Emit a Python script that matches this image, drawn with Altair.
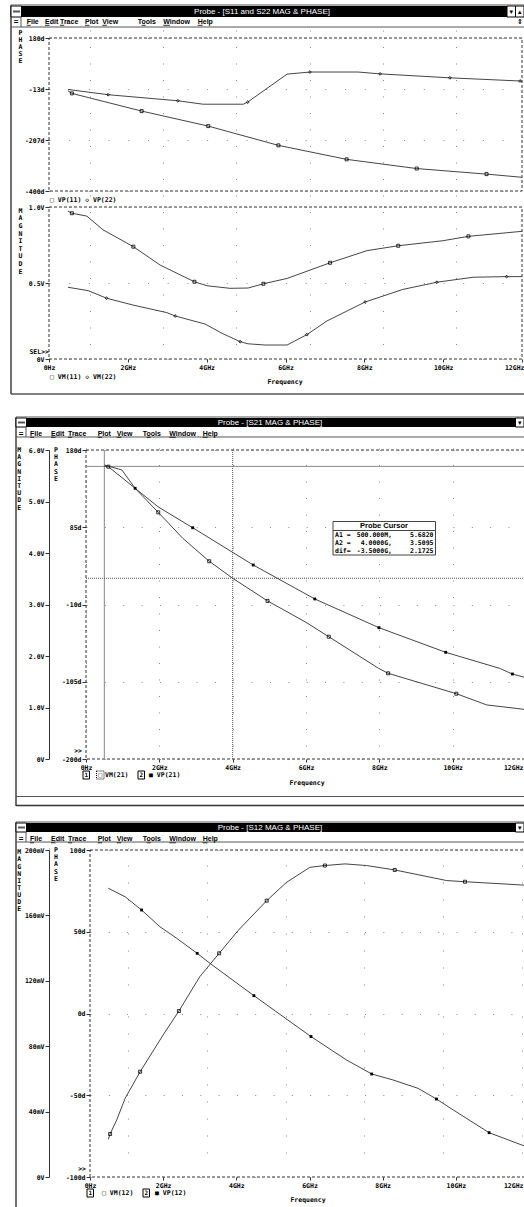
import altair as alt
import pandas as pd

W, H = 524, 1207
INK = "#000000"
TRACE = "#303030"
AX = "#333333"
DOTS = "#8a8a8a"
MONO = "DejaVu Sans Mono"
SANS = "Liberation Sans"

# ---------------- data ----------------
F_TICKS = [0, 2, 4, 6, 8, 10, 12]          # GHz

# S11 / S22 : phase (deg)
VP11_F = [0.48, 0.58, 2.35, 4.04, 5.82, 7.55, 9.33, 11.10, 12.0]
VP11_V = [-20, -30, -97, -154, -227, -280, -315, -336, -348]
VP11_M = [0, 1, 1, 1, 1, 1, 1, 1, 0]

VP22_F = [0.48, 1.50, 3.27, 3.91, 4.93, 5.04, 6.04, 6.62, 7.84, 8.40, 10.17, 11.95, 12.0]
VP22_V = [-15, -35, -58, -71, -71, -63, 43, 51, 51, 44, 29, 17, 17]
VP22_M = [0, 1, 1, 0, 0, 1, 0, 1, 0, 1, 1, 1, 0]

# S11 / S22 : magnitude (V)
VM11_F = [0.48, 0.58, 0.96, 1.37, 2.14, 2.82, 3.69, 4.01, 4.59, 5.05, 5.44, 6.04,
          7.13, 8.07, 8.86, 9.99, 10.64, 12.0]
VM11_V = [0.974, 0.959, 0.94, 0.85, 0.739, 0.618, 0.508, 0.482, 0.465, 0.467, 0.495, 0.53,
          0.633, 0.713, 0.745, 0.778, 0.807, 0.84]
VM11_M = [0, 1, 0, 0, 1, 0, 1, 0, 0, 0, 1, 0, 1, 0, 1, 0, 1, 0]

VM22_F = [0.48, 0.99, 1.46, 2.13, 2.99, 3.20, 3.96, 4.39, 4.85, 5.05, 5.48, 6.04,
          6.54, 7.05, 8.02, 8.98, 9.84, 10.76, 11.61, 12.0]
VM22_V = [0.472, 0.45, 0.40, 0.355, 0.305, 0.283, 0.23, 0.169, 0.114, 0.10, 0.092, 0.092,
          0.16, 0.25, 0.375, 0.458, 0.505, 0.538, 0.542, 0.542]
VM22_M = [0, 0, 1, 0, 0, 1, 0, 0, 1, 0, 0, 0, 1, 0, 1, 0, 1, 0, 1, 0]

# S21 : magnitude (V) and phase (deg)
VM21_F = [0.5, 0.61, 1.34, 1.97, 2.64, 3.36, 4.0, 4.95, 5.97, 6.62, 7.98, 8.24,
          10.1, 10.93, 12.0]
VM21_V = [5.682, 5.676, 5.256, 4.79, 4.285, 3.84, 3.5095, 3.07, 2.666, 2.375, 1.76, 1.664,
          1.268, 1.05, 0.96]
VM21_M = [0, 1, 0, 1, 0, 1, 0, 1, 0, 1, 0, 1, 1, 0, 0]

VP21_F = [0.5, 0.98, 1.34, 1.97, 2.91, 4.56, 6.24, 7.99, 9.81, 11.28, 11.63, 12.0]
VP21_V = [161.6, 155.4, 132.9, 110, 84.4, 38.6, -3.2, -38.5, -68.8, -88.5, -95.5, -100]
VP21_M = [0, 0, 1, 0, 1, 1, 1, 1, 1, 0, 1, 0]

# Probe cursor readings: (frequency GHz, VM(21) V)
CURSOR_A1 = (0.5, 5.6820)
CURSOR_A2 = (4.0, 3.5095)

# S12 : magnitude (mV) and phase (deg)
VM12_F = [0.5, 0.55, 0.73, 0.96, 1.37, 2.0, 2.43, 3.0, 3.53, 4.05, 4.83, 5.37, 6.01,
          6.42, 6.97, 7.56, 8.33, 9.75, 10.25, 11.8, 12.0]
VM12_V = [23, 26.3, 34.9, 48.1, 64.4, 86.9, 101.5, 122.5, 136.8, 150.8, 169, 180.2, 189.4,
          190.5, 191.5, 190.5, 187.8, 181.3, 180.6, 178.6, 178.3]
VM12_M = [0, 1, 0, 0, 1, 0, 1, 0, 1, 0, 1, 0, 0, 1, 0, 0, 1, 0, 1, 0, 0]

VP12_F = [0.5, 0.96, 1.41, 1.91, 2.37, 2.93, 3.32, 4.48, 6.04, 7.01, 7.7, 8.29, 8.97,
          9.47, 9.93, 10.91, 11.8, 12.0]
VP12_V = [76.6, 71.4, 63.3, 53.1, 46, 36.8, 30, 10.9, -14.1, -28.4, -37, -40.7, -45.8,
          -52.3, -59, -72.9, -80.4, -82]
VP12_M = [0, 0, 1, 0, 0, 1, 0, 1, 1, 0, 1, 0, 0, 1, 0, 1, 0, 0]

MENU = ["File", "Edit", "Trace", "Plot", "View", "Tools", "Window", "Help"]
# mnemonic letter of each menu entry: (offset, width) in px
MNEMONIC = [(0, 4), (0, 4.5), (0, 4.3), (0, 4.5), (0, 4.6), (4, 4), (0, 6.6), (0, 5)]

ONE = pd.DataFrame({"k": [0]})
layers = []


# ---------------- helpers ----------------
def sc(domain, rng):
    return alt.Scale(domain=domain, range=rng, zero=False, nice=False)


def rect(x1, y1, x2, y2, fill=None, stroke=None, sw=1.0, dash=None):
    p = {}
    if fill:
        p["fill"] = fill
    else:
        p["fillOpacity"] = 0
    if stroke:
        p["stroke"] = stroke
        p["strokeWidth"] = sw
    if dash:
        p["strokeDash"] = dash
    return alt.Chart(ONE).mark_rect(**p).encode(
        x=alt.value(x1), x2=alt.value(x2), y=alt.value(y1), y2=alt.value(y2))


def rule(x1, y1, x2, y2, color=INK, sw=1.0, dash=None):
    p = dict(color=color, strokeWidth=sw)
    if dash:
        p["strokeDash"] = dash
    return alt.Chart(ONE).mark_rule(**p).encode(
        x=alt.value(x1), x2=alt.value(x2), y=alt.value(y1), y2=alt.value(y2))


def txt(x, y, s, size=6.5, font=MONO, weight="bold", color=INK, align="left",
        baseline="middle"):
    return alt.Chart(ONE).mark_text(
        text=s, fontSize=size, font=font, fontWeight=weight, color=color,
        align=align, baseline=baseline).encode(x=alt.value(x), y=alt.value(y))


def vertical_word(x, y0, step, word):
    return [txt(x, y0 + i * step, ch, align="center") for i, ch in enumerate(word)]


def freq_axis(py, labels=True, gap=15.5, last_shift=0):
    p = dict(orient="bottom", offset=-(H - py), values=F_TICKS, domain=False,
             grid=True, gridColor=DOTS, gridDash=[1, gap], gridWidth=1, title=None,
             labelFlush=False)
    if labels:
        p.update(labelExpr="datum.value == 0 ? '0Hz' : datum.value + 'GHz'",
                 labelFont=MONO, labelFontSize=6.5, labelFontWeight="bold",
                 labelColor=INK, labelPadding=2, tickSize=3, tickColor=AX,
                 labelAlign=alt.condition("datum.value == 12", alt.value("right"),
                                          alt.value("center")),
                 labelOffset=alt.condition("datum.value == 12", alt.value(last_shift),
                                           alt.value(0)))
    else:
        p.update(labels=False, ticks=False)
    return alt.Axis(**p)


def level_axis(px, values, expr, grid_gap=None, solid=False):
    p = dict(orient="left", offset=-px, values=values, labelExpr=expr, title=None,
             labelFont=MONO, labelFontSize=6.5, labelFontWeight="bold",
             labelColor=INK, labelPadding=1, tickSize=4, tickColor=AX,
             labelFlush=False, domain=solid)
    if solid:
        p.update(domainColor=AX, domainWidth=1)
    if grid_gap:
        p.update(grid=True, gridColor=DOTS, gridDash=[1, grid_gap], gridWidth=1)
    else:
        p.update(grid=False)
    return alt.Axis(**p)


def frame(sx, sy, xd, yd, xaxis, yaxis):
    df = pd.DataFrame({"x0": [xd[0]], "x1": [xd[1]], "y0": [yd[0]], "y1": [yd[1]]})
    return alt.Chart(df).mark_rect(fillOpacity=0, stroke=AX, strokeWidth=1,
                                   strokeDash=[3, 2]).encode(
        x=alt.X("x0:Q", scale=sx, axis=xaxis), x2="x1:Q",
        y=alt.Y("y0:Q", scale=sy, axis=yaxis), y2="y1:Q")


def trace(f, v, m, sx, sy, shape, filled, size, yaxis=None):
    df = pd.DataFrame({"f": f, "v": v, "m": m})
    line = alt.Chart(df).mark_line(color=TRACE, strokeWidth=0.9).encode(
        x=alt.X("f:Q", scale=sx, axis=None),
        y=alt.Y("v:Q", scale=sy, axis=yaxis))
    pts = alt.Chart(df).transform_filter("datum.m == 1").mark_point(
        shape=shape, filled=filled, size=size, color=INK, strokeWidth=0.8,
        opacity=1).encode(
        x=alt.X("f:Q", scale=sx, axis=None),
        y=alt.Y("v:Q", scale=sy, axis=None))
    return [line, pts]


def chrome(left, top, bar_top, bar_bot, title, title_x, menu_y, menu_xs, right_buttons):
    out = []
    out.append(rect(left + 11, bar_top, W - right_buttons * 8.5, bar_bot, fill="#000000"))
    out.append(txt(title_x, (bar_top + bar_bot) / 2, title, size=8, font=SANS,
                   weight="normal", color="#ffffff", align="center"))
    # system menu box
    out.append(rect(left, bar_top, left + 10.5, bar_bot, fill="#ffffff", stroke=INK, sw=1))
    out.append(rule(left + 2, (bar_top + bar_bot) / 2, left + 9, (bar_top + bar_bot) / 2,
                    color="#555555", sw=2))
    # caption buttons
    bx = W - right_buttons * 8.5
    glyphs = ["\u25be", "\u25b4"]
    for i in range(right_buttons):
        out.append(rect(bx + i * 8.5, bar_top, bx + (i + 1) * 8.5, bar_bot, fill="#ffffff",
                        stroke=INK, sw=1))
        out.append(txt(bx + i * 8.5 + 4.25, (bar_top + bar_bot) / 2, glyphs[i], size=7,
                       font="DejaVu Sans", weight="normal", align="center"))
    out.append(rule(left, top, W, top, color="#555555", sw=1))
    out.append(rule(left, bar_bot + 10, W, bar_bot + 10, color="#555555", sw=1))
    # document system menu
    out.append(txt(left + 5, menu_y, "=", size=8, font=SANS, align="center"))
    out.append(rule(left + 10, bar_bot, left + 10, bar_bot + 10, color="#555555", sw=1))
    for name, x, (off, wd) in zip(MENU, menu_xs, MNEMONIC):
        out.append(txt(x, menu_y, name, size=7, font=SANS, weight="bold"))
        out.append(rule(x + off, menu_y + 3.8, x + off + wd, menu_y + 3.8, color=INK, sw=0.8))
    return out


# ================= window 1 : S11 and S22 =================
layers += [rule(11, 5, 11, 394, color="#707070", sw=2),
           rule(11, 394, W, 394, color="#555555", sw=1.5)]
layers += chrome(11, 5, 6, 17, "Probe - [S11 and S22 MAG & PHASE]", 262, 21.5,
                 [26.7, 45, 60, 85, 102.3, 137.7, 163.3, 197.7], 2)
layers.append(txt(520, 21.5, "\u21d5", size=7, font="DejaVu Sans", align="center"))

x1 = sc([0, 12], [49, 522])
y1p = sc([-400, 180], [191, 38])
y1m = sc([0, 1], [359, 207])

layers.append(frame(x1, y1p, [0, 12], [-400, 180], freq_axis(191, labels=False, gap=16),
                    level_axis(49, [180, -40 / 3, -620 / 3, -400],
                               "round(datum.value) + 'd'", grid_gap=18.7)))
layers += trace(VP11_F, VP11_V, VP11_M, x1, y1p, "square", False, 9)
layers += trace(VP22_F, VP22_V, VP22_M, x1, y1p, "diamond", False, 8)
layers.append(txt(50, 200, "\u25a1 VP(11) \u25c7 VP(22)"))
layers += vertical_word(20.5, 33.3, 7, "PHASE")

layers.append(frame(x1, y1m, [0, 12], [0, 1], freq_axis(359, gap=16, last_shift=2),
                    level_axis(49, [0, 0.5, 1],
                               "datum.value == 0 ? '0V' : format(datum.value, '.1f') + 'V'",
                               grid_gap=18.7)))
layers += trace(VM11_F, VM11_V, VM11_M, x1, y1m, "square", False, 9)
layers += trace(VM22_F, VM22_V, VM22_M, x1, y1m, "diamond", False, 8)
layers.append(txt(50, 377, "\u25a1 VM(11) \u25c7 VM(22)"))
layers.append(txt(285, 382, "Frequency", align="center"))
layers.append(txt(49, 351.5, "SEL>>", align="right"))
layers += vertical_word(20.5, 210.7, 7.6, "MAGNITUDE")

# ================= window 2 : S21 =================
layers += [rule(16, 417, 16, 806, color="#707070", sw=2),
           rule(16, 796.5, W, 796.5, color="#555555", sw=1),
           rule(16, 805.5, W, 805.5, color="#333333", sw=1.5)]
layers += chrome(16, 417, 418, 427, "Probe - [S21 MAG & PHASE]", 270, 433.5,
                 [30, 51, 68, 97.7, 116.7, 142.7, 169.3, 202.7], 1)

x2 = sc([0, 12], [86, 526])
y2m = sc([0, 6], [759, 450])
y2p = sc([-200, 180], [759, 450])

layers.append(frame(x2, y2p, [0, 12], [-200, 180], freq_axis(759, gap=15.5, last_shift=-3),
                    level_axis(86, [180, 85, -10, -105, -200],
                               "round(datum.value) + 'd'", grid_gap=17.35)))

# cursor lines, placed by the cursor readings
cur = pd.DataFrame({"f": [CURSOR_A1[0], CURSOR_A2[0]], "v": [CURSOR_A1[1], CURSOR_A2[1]],
                    "lo": [0, 0], "hi": [6, 6], "f0": [0, 0], "f1": [12, 12],
                    "c": ["a1", "a2"]})
for key, col, dash in [("a1", "#8a8a8a", None), ("a2", "#555555", [1, 1])]:
    props = dict(color=col, strokeWidth=1)
    if dash:
        props["strokeDash"] = dash
    base = alt.Chart(cur).transform_filter(f"datum.c == '{key}'")
    layers.append(base.mark_rule(**props).encode(
        x=alt.X("f:Q", scale=x2, axis=None),
        y=alt.Y("lo:Q", scale=y2m, axis=None), y2="hi:Q"))
    layers.append(base.mark_rule(**props).encode(
        x=alt.X("f0:Q", scale=x2, axis=None), x2="f1:Q",
        y=alt.Y("v:Q", scale=y2m, axis=None)))

layers += trace(VM21_F, VM21_V, VM21_M, x2, y2m, "square", False, 9,
                yaxis=level_axis(49, [0, 1, 2, 3, 4, 5, 6],
                                 "datum.value == 0 ? '0V' : format(datum.value, '.1f') + 'V'",
                                 solid=True))
layers += trace(VP21_F, VP21_V, VP21_M, x2, y2p, "square", True, 8)

# probe cursor readout box
dif = (CURSOR_A1[0] - CURSOR_A2[0], CURSOR_A1[1] - CURSOR_A2[1])
layers.append(rect(333, 521.5, 435.5, 555, fill="#ffffff", stroke="#444444", sw=1))
layers.append(rule(333, 530.5, 435.5, 530.5, color="#444444", sw=1))
layers.append(txt(384, 526, "Probe Cursor", size=7.5, font=SANS, align="center"))
for i, (lab, fv, mv) in enumerate([
        ("A1 = ", f"{CURSOR_A1[0] * 1000:.3f}M,", CURSOR_A1[1]),
        ("A2 = ", f"{CURSOR_A2[0]:.4f}G,", CURSOR_A2[1]),
        ("dif= ", f"{dif[0]:.4f}G,", dif[1])]):
    yy = 535 + i * 8
    layers.append(txt(335, yy, lab))
    layers.append(txt(392, yy, fv, align="right"))
    layers.append(txt(433.5, yy, f"{mv:.4f}", align="right"))

layers.append(txt(82, 751, ">>", align="right"))
layers.append(rect(83, 771, 89.5, 779, stroke=INK, sw=1))
layers.append(txt(86.3, 775, "1", size=6, align="center"))
layers.append(rect(96.5, 771, 104, 779, stroke=INK, sw=1, dash=[1, 1]))
layers.append(txt(100.3, 775, "\u25a1", size=6.5, align="center"))
layers.append(txt(105, 775, "VM(21)"))
layers.append(rect(138, 771, 144.5, 779, stroke=INK, sw=1))
layers.append(txt(141.3, 775, "2", size=6, align="center"))
layers.append(txt(149, 775, "\u25a0 VP(21)"))
layers.append(txt(307, 783, "Frequency", align="center"))
layers += vertical_word(19.3, 450, 7.2, "MAGNITUDE")
layers += vertical_word(56, 450, 7.2, "PHASE")

# ================= window 3 : S12 =================
layers += [rule(16, 822, 16, H, color="#707070", sw=2)]
layers += chrome(16, 822, 823, 832, "Probe - [S12 MAG & PHASE]", 270, 839,
                 [30, 51, 68, 97.7, 116.7, 142.7, 169.3, 202.7], 1)

x3 = sc([0, 12], [90, 529])
y3m = sc([0, 200], [1177, 850])
y3p = sc([-100, 100], [1177, 850])

layers.append(frame(x3, y3p, [0, 12], [-100, 100], freq_axis(1177, gap=15.5, last_shift=-6),
                    level_axis(90, [-100, -50, 0, 50, 100],
                               "datum.value + 'd'", grid_gap=17.3)))
layers += trace(VM12_F, VM12_V, VM12_M, x3, y3m, "square", False, 9,
                yaxis=level_axis(49, [0, 40, 80, 120, 160, 200],
                                 "datum.value == 0 ? '0V' : datum.value + 'mV'",
                                 solid=True))
layers += trace(VP12_F, VP12_V, VP12_M, x3, y3p, "square", True, 8)

layers.append(txt(86, 1169, ">>", align="right"))
layers.append(rect(87, 1189, 93.5, 1197, stroke=INK, sw=1))
layers.append(txt(90.3, 1193, "1", size=6, align="center"))
layers.append(txt(102, 1193, "\u25a1 VM(12)"))
layers.append(rect(143, 1189, 149.5, 1197, stroke=INK, sw=1))
layers.append(txt(146.3, 1193, "2", size=6, align="center"))
layers.append(txt(155, 1193, "\u25a0 VP(12)"))
layers.append(txt(308, 1200, "Frequency", align="center"))
layers += vertical_word(19.3, 852.3, 7.1, "MAGNITUDE")
layers += vertical_word(56, 850, 7.2, "PHASE")

chart = alt.layer(*layers).resolve_scale(x="independent", y="independent").properties(
    width=W, height=H, padding=0, autosize=alt.AutoSizeParams(type="none"),
    background="#ffffff"
).configure_view(stroke=None)

chart.save("out.html", embed_options={"renderer": "svg", "actions": False})
